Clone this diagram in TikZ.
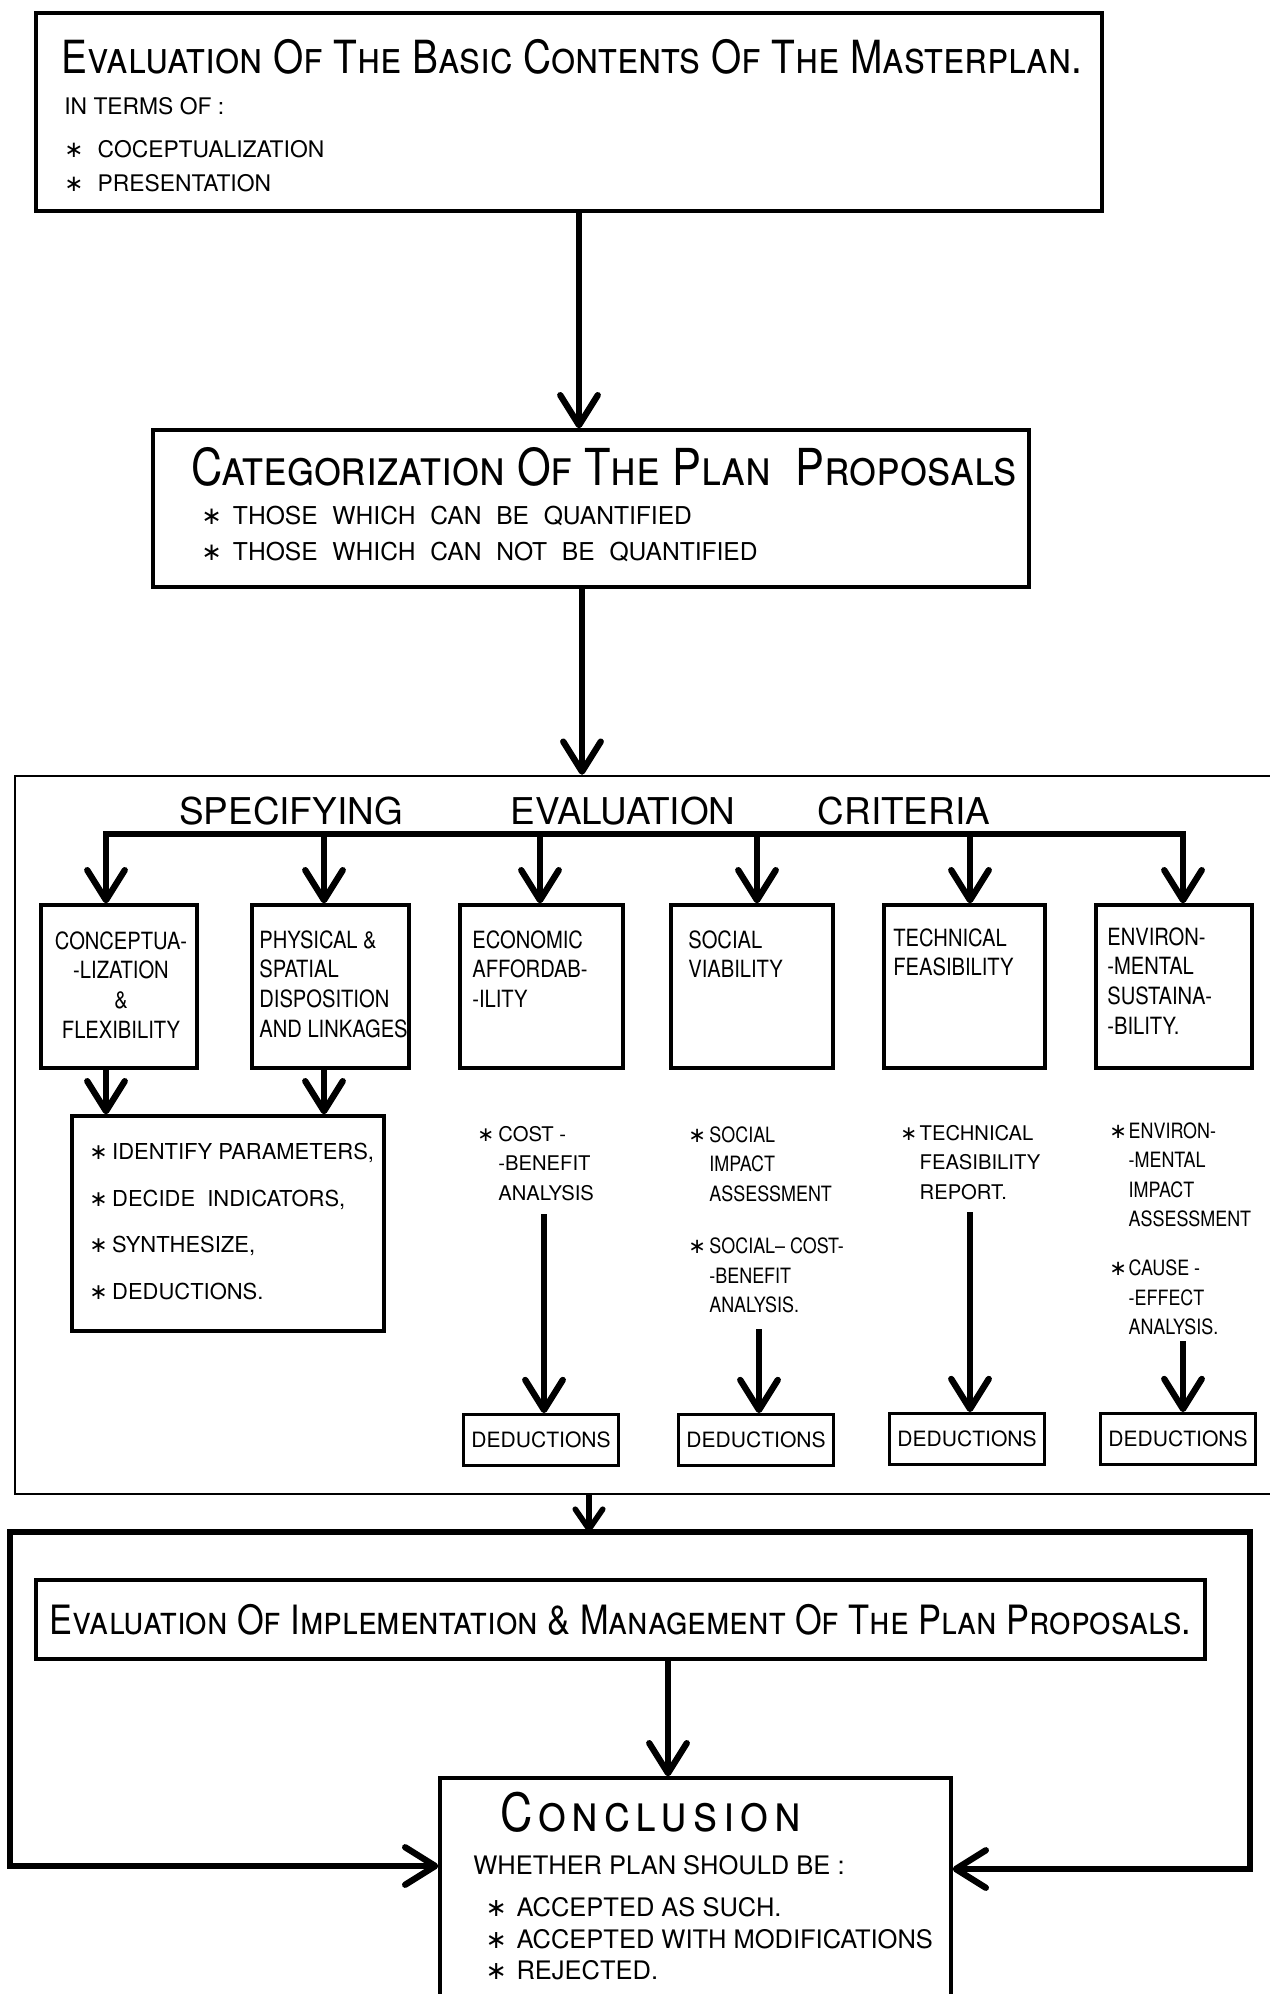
\documentclass[tikz,border=0pt]{standalone}
\usepackage{fontspec}
\setmainfont{TeX Gyre Heros}
\newfontfamily\narrow{TeX Gyre Heros}[FakeStretch=0.85]
\newfontfamily\symfont{DejaVu Sans}
\usetikzlibrary{arrows.meta, fit, positioning}

\newcommand{\starmark}[1]{\makebox[#1][l]{{\symfont ∗}}}
\newcommand{\widespace}{\spaceskip 0.6em plus 0.1em\relax}

\tikzset{
  box/.style={draw, line width=1.9pt, inner sep=0pt},
  frame/.style={draw, line width=1.4pt, inner sep=0pt},
  flow/.style={line width=3.6pt, -{Straight Barb[length=6mm,width=7.5mm,round]}},
  shortflow/.style={line width=3.2pt, -{Straight Barb[length=4mm,width=5.5mm,round]}},
  bus/.style={line width=3.6pt, line cap=rect},
  heading/.style={inner sep=0pt, anchor=west, font=\fontsize{#1}{#1}\narrow\scshape},
  txt/.style={inner sep=0pt, align=left, anchor=north west},
  critlabel/.style={txt, font=\fontsize{13.5}{17}\narrow},
  note/.style={txt, font=\fontsize{11.5}{16.8}\selectfont},
  narrownote/.style={txt, font=\fontsize{12}{16.8}\narrow},
  dedbox/.style={draw, line width=1.6pt, minimum width=88pt, minimum height=29pt,
    inner sep=0pt, font=\fontsize{12}{12}\selectfont}
}

\begin{document}
\begin{tikzpicture}[x=0.02cm, y=-0.02cm]
\useasboundingbox (0,0) rectangle (1269,1994);

% masterplan
\node[box, fit={(36,13) (1102,211)}] (plan) {};
\node[heading=26] (plantitle) at (61,57) {Evaluation Of The Basic Contents Of The Masterplan.};
\node[txt, font=\fontsize{13}{19.5}\selectfont] (terms) at (64,97)
  {IN TERMS OF :\\[5pt]\starmark{19pt}COCEPTUALIZATION\\\starmark{19pt}PRESENTATION};

% categorization
\node[box, fit={(153,430) (1029,587)}] (cat) {};
\node[heading=29] (cattitle) at (191,467) {Categorization Of The Plan\ \ Proposals};
\node[txt, font=\fontsize{14}{20.5}\selectfont\widespace] (quant) at (201,506)
  {\starmark{18pt}THOSE WHICH CAN BE QUANTIFIED\\\starmark{18pt}THOSE WHICH CAN NOT BE QUANTIFIED};

\draw[flow] (plan.south -| 579,0) -- (cat.north -| 579,0);

% evaluation criteria
\node[frame, fit={(15,776) (1300,1494)}] (evalframe) {};
\draw[flow] (cat.south -| 582,0) -- (evalframe.north -| 582,0);

\node[font=\fontsize{21}{21}\selectfont, inner sep=0pt] (spec) at (291,811) {SPECIFYING};
\node[font=\fontsize{21}{21}\selectfont, inner sep=0pt] (evalu) at (623,811) {EVALUATION};
\node[font=\fontsize{21}{21}\selectfont, inner sep=0pt] (criteria) at (904,811) {CRITERIA};

\node[box, fit={(41,905) (197,1068)}] (conc) {};
\node[box, fit={(252,905) (409,1068)}] (phys) {};
\node[box, fit={(460,905) (623,1068)}] (econ) {};
\node[box, fit={(671,905) (833,1068)}] (soc) {};
\node[box, fit={(884,905) (1045,1068)}] (tech) {};
\node[box, fit={(1096,905) (1252,1068)}] (env) {};

\node[critlabel, align=center, anchor=center] at (121,985)
  {CONCEPTUA-\\-LIZATION\\\&\\FLEXIBILITY};
\node[critlabel] at (259,930) {PHYSICAL \&\\SPATIAL\\DISPOSITION\\AND LINKAGES};
\node[critlabel] at (472,930) {ECONOMIC\\AFFORDAB-\\-ILITY};
\node[critlabel] at (688,930) {SOCIAL\\VIABILITY};
\node[critlabel] at (893,928) {TECHNICAL\\FEASIBILITY};
\node[critlabel] at (1107,927) {ENVIRON-\\-MENTAL\\SUSTAINA-\\-BILITY.};

\coordinate (busL) at (106,834);
\coordinate (busR) at (1183,834);
\draw[bus] (busL) -- (busR);
\foreach \n/\x in {conc/106, phys/324, econ/540, soc/757, tech/970, env/1183}
  \draw[flow] (\x,834) -- (\n.north -| \x,834);

% parameters
\node[box, fit={(72,1116) (384,1331)}] (param) {};
\draw[flow] (conc.south -| 106,0) -- (param.north -| 106,0);
\draw[flow] (phys.south -| 324,0) -- (param.north -| 324,0);
\node[txt, font=\fontsize{12.5}{26.5}\selectfont] at (89,1143)
  {\starmark{13pt}IDENTIFY PARAMETERS,\\\starmark{13pt}DECIDE\ \ INDICATORS,\\%
   \starmark{13pt}SYNTHESIZE,\\\starmark{13pt}DEDUCTIONS.};

% methods
\node[note] (cba) at (477,1126)
  {\starmark{12pt}COST -\\\hspace*{12pt}-BENEFIT\\\hspace*{12pt}ANALYSIS};
\node[narrownote] (sia) at (688,1126)
  {\starmark{12pt}SOCIAL\\\hspace*{12pt}IMPACT\\\hspace*{12pt}ASSESSMENT\\[13pt]%
   \starmark{12pt}SOCIAL\textendash\ COST-\\\hspace*{12pt}-BENEFIT\\\hspace*{12pt}ANALYSIS.};
\node[note] (tfr) at (900,1125)
  {\starmark{11pt}TECHNICAL\\\hspace*{11pt}FEASIBILITY\\\hspace*{11pt}REPORT.};
\node[narrownote] (eia) at (1109,1122)
  {\starmark{11pt}ENVIRON-\\\hspace*{11pt}-MENTAL\\\hspace*{11pt}IMPACT\\\hspace*{11pt}ASSESSMENT\\[11pt]%
   \starmark{11pt}CAUSE -\\\hspace*{11pt}-EFFECT\\\hspace*{11pt}ANALYSIS.};

\node[dedbox] (ded3) at (541,1440) {DEDUCTIONS};
\node[dedbox] (ded4) at (756,1440) {DEDUCTIONS};
\node[dedbox] (ded5) at (967,1439) {DEDUCTIONS};
\node[dedbox] (ded6) at (1178,1439) {DEDUCTIONS};

\coordinate (s3) at (544,1214);
\coordinate (s4) at (759,1329);
\coordinate (s5) at (970,1212);
\coordinate (s6) at (1183,1341);
\foreach \s/\d in {s3/ded3, s4/ded4, s5/ded5, s6/ded6}
  \draw[flow] (\s) -- (\s |- \d.north);

% implementation and conclusion
\coordinate (join) at (589,1532);
\draw[shortflow] (evalframe.south -| join) -- (join);

\node[box, fit={(36,1580) (1205,1659)}] (impl) {};
\node[heading=23, anchor=center] at (impl.center)
  {Evaluation Of Implementation \& Management Of The Plan Proposals.};

\node[box, fit={(440,1778) (951,2030)}] (concl) {};
\draw[flow] (impl.south -| 668,0) -- (concl.north -| 668,0);
\node[heading=30, font=\fontsize{30}{30}\narrow\scshape\addfontfeature{LetterSpace=11}] at (500,1812) {Conclusion};
\node[txt, font=\fontsize{14.5}{18}\selectfont] at (473,1855)
  {WHETHER PLAN SHOULD BE :\\[6pt]%
   \hspace*{7pt}\starmark{17.6pt}ACCEPTED AS SUCH.\\
   \hspace*{7pt}\starmark{17.6pt}ACCEPTED WITH MODIFICATIONS\\
   \hspace*{7pt}\starmark{17.6pt}REJECTED.};

\coordinate (cornerL) at (10,1866);
\coordinate (cornerR) at (1250,1869);
\draw[flow] (join) -| (cornerL) -- (concl.west |- cornerL);
\draw[flow] (join) -| (cornerR) -- (concl.east |- cornerR);
\end{tikzpicture}
\end{document}
